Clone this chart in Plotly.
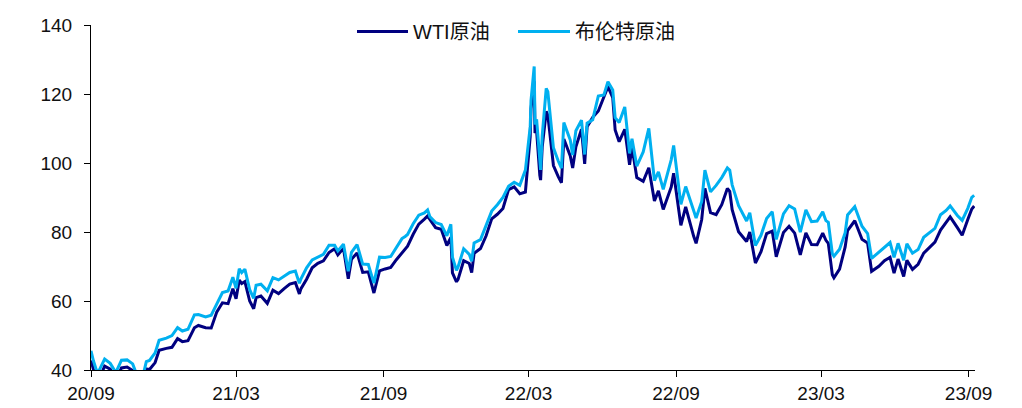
import plotly.graph_objects as go

# Daily settlement samples (USD/bbl)
dates = [
    "2020-09-01", "2020-09-04", "2020-09-08", "2020-09-11", "2020-09-16", "2020-09-18", "2020-09-25",
    "2020-10-02", "2020-10-09", "2020-10-16", "2020-10-23", "2020-10-30", "2020-11-02", "2020-11-06",
    "2020-11-09", "2020-11-13", "2020-11-20", "2020-11-25", "2020-12-04", "2020-12-11", "2020-12-18",
    "2020-12-24", "2020-12-31",
    "2021-01-08", "2021-01-13", "2021-01-22", "2021-01-29", "2021-02-05", "2021-02-12", "2021-02-19",
    "2021-02-25", "2021-03-01", "2021-03-05", "2021-03-08", "2021-03-12", "2021-03-18", "2021-03-23",
    "2021-03-26", "2021-04-01", "2021-04-09", "2021-04-16", "2021-04-23", "2021-04-30", "2021-05-07",
    "2021-05-14", "2021-05-19", "2021-05-21", "2021-05-28", "2021-06-04", "2021-06-11", "2021-06-18",
    "2021-06-25", "2021-07-02", "2021-07-06", "2021-07-13", "2021-07-19", "2021-07-23", "2021-07-30",
    "2021-08-06", "2021-08-13", "2021-08-20", "2021-08-27", "2021-09-03", "2021-09-10", "2021-09-17",
    "2021-09-24", "2021-09-28", "2021-10-01", "2021-10-08", "2021-10-15", "2021-10-22", "2021-10-26",
    "2021-10-29", "2021-11-05", "2021-11-12", "2021-11-19", "2021-11-24", "2021-11-26", "2021-12-01",
    "2021-12-03", "2021-12-10", "2021-12-17", "2021-12-20", "2021-12-23", "2021-12-31",
    "2022-01-07", "2022-01-14", "2022-01-21", "2022-01-28", "2022-02-04", "2022-02-11", "2022-02-18",
    "2022-02-25", "2022-03-03", "2022-03-04", "2022-03-08", "2022-03-09", "2022-03-11", "2022-03-15",
    "2022-03-16", "2022-03-18", "2022-03-23", "2022-03-25", "2022-04-01", "2022-04-07", "2022-04-11",
    "2022-04-14", "2022-04-22", "2022-04-25", "2022-04-29", "2022-05-06", "2022-05-10", "2022-05-13",
    "2022-05-20", "2022-05-27", "2022-06-03", "2022-06-08", "2022-06-14", "2022-06-17", "2022-06-22",
    "2022-06-29", "2022-07-05", "2022-07-08", "2022-07-14", "2022-07-22", "2022-07-29", "2022-08-05",
    "2022-08-10", "2022-08-16", "2022-08-26", "2022-08-29", "2022-09-07", "2022-09-13", "2022-09-23",
    "2022-09-26", "2022-10-03", "2022-10-07", "2022-10-14", "2022-10-21", "2022-10-28", "2022-11-04",
    "2022-11-07", "2022-11-10", "2022-11-18", "2022-11-28", "2022-12-02", "2022-12-09", "2022-12-16",
    "2022-12-23", "2022-12-30",
    "2023-01-04", "2023-01-13", "2023-01-20", "2023-01-27", "2023-02-03", "2023-02-10", "2023-02-17",
    "2023-02-24", "2023-03-03", "2023-03-07", "2023-03-10", "2023-03-15", "2023-03-17", "2023-03-24",
    "2023-03-31", "2023-04-03", "2023-04-12", "2023-04-21", "2023-04-28", "2023-05-03", "2023-05-12",
    "2023-05-19", "2023-05-26", "2023-05-31", "2023-06-05", "2023-06-12", "2023-06-16", "2023-06-23",
    "2023-06-30", "2023-07-07", "2023-07-14", "2023-07-21", "2023-07-28", "2023-08-04", "2023-08-09",
    "2023-08-18", "2023-08-24", "2023-08-31", "2023-09-05", "2023-09-08",
]

wti = [
    42.76, 39.77, 36.76, 37.33, 40.16, 41.11, 40.25,
    37.05, 40.60, 40.88, 39.85, 35.79, 36.81, 37.14,
    40.29, 40.13, 42.15, 45.71, 46.26, 46.57, 49.10,
    48.23, 48.52,
    52.24, 52.91, 52.27, 52.20, 56.85, 59.47, 59.24,
    63.53, 60.64, 66.09, 65.05, 65.61, 60.00, 57.76,
    60.97, 61.45, 59.32, 63.13, 62.14, 63.58, 64.90,
    65.37, 62.05, 63.58, 66.32, 69.62, 70.91, 71.64,
    74.05, 75.16, 73.37, 75.25, 66.42, 72.07, 73.95,
    68.28, 68.44, 62.32, 68.74, 69.29, 69.72, 71.97,
    73.98, 75.29, 75.88, 79.35, 82.28, 83.76, 84.65,
    83.57, 81.27, 80.79, 76.10, 78.39, 68.15, 65.57,
    66.26, 71.67, 70.86, 68.23, 73.79, 75.21,
    78.90, 83.82, 85.14, 86.82, 92.31, 93.10, 91.07,
    91.59, 107.67, 115.68, 123.70, 108.70, 109.33, 96.44,
    95.04, 104.70, 114.93, 113.90, 99.27, 96.03, 94.29,
    106.95, 102.07, 98.54, 104.69, 109.77, 99.76, 110.49,
    113.23, 115.07, 118.87, 122.11, 118.93, 109.56, 106.19,
    109.78, 99.50, 104.79, 95.78, 94.70, 98.62, 89.01,
    91.93, 86.53, 93.06, 97.01, 81.94, 87.31, 78.74,
    76.71, 83.63, 92.64, 85.61, 85.05, 87.90, 92.61,
    91.79, 86.47, 80.08, 77.24, 79.98, 71.02, 74.29,
    79.56, 80.26,
    72.84, 79.86, 81.64, 79.68, 73.39, 79.72, 76.34,
    76.32, 79.68, 77.58, 76.68, 67.61, 66.74, 69.26,
    75.67, 80.42, 83.26, 77.87, 76.78, 68.60, 70.04,
    71.69, 72.67, 68.09, 72.15, 67.12, 71.78, 69.16,
    70.64, 73.86, 75.42, 77.07, 80.58, 82.82, 84.40,
    81.25, 79.05, 83.63, 86.69, 87.51,
]

brent = [
    45.58, 42.66, 39.78, 39.83, 42.22, 43.15, 41.92,
    39.27, 42.85, 42.93, 41.77, 37.46, 39.00, 39.45,
    42.40, 42.78, 44.96, 48.61, 49.25, 49.97, 52.26,
    51.29, 51.80,
    55.99, 56.06, 55.41, 55.88, 59.34, 62.43, 62.91,
    66.88, 63.69, 69.36, 68.24, 69.22, 63.28, 60.79,
    64.57, 64.86, 62.95, 66.77, 66.11, 67.25, 68.28,
    68.71, 65.11, 66.44, 69.63, 71.89, 72.69, 73.51,
    76.18, 76.17, 74.53, 76.49, 68.62, 74.10, 76.33,
    70.70, 70.59, 65.18, 72.70, 72.61, 72.92, 75.34,
    78.09, 78.72, 79.28, 82.39, 84.86, 85.53, 86.40,
    84.38, 82.74, 82.17, 78.89, 82.25, 72.72, 68.87,
    69.88, 75.15, 73.52, 71.52, 76.85, 77.78,
    81.75, 86.06, 87.89, 90.03, 93.27, 94.44, 93.54,
    97.93, 110.46, 118.11, 127.98, 111.14, 112.67, 99.91,
    98.02, 107.93, 121.60, 120.65, 104.39, 100.58, 98.48,
    111.70, 106.65, 102.32, 109.34, 112.39, 102.46, 111.55,
    112.55, 119.43, 119.72, 123.58, 121.17, 113.12, 111.74,
    116.26, 102.77, 107.02, 99.10, 103.20, 110.01, 94.92,
    97.40, 92.34, 100.99, 105.09, 88.00, 93.17, 86.15,
    84.06, 88.86, 97.92, 91.63, 93.50, 95.77, 98.57,
    97.92, 93.67, 87.62, 83.19, 85.57, 76.10, 79.04,
    83.92, 85.91,
    77.84, 85.28, 87.63, 86.66, 79.94, 86.39, 83.00,
    83.16, 85.83, 83.29, 82.78, 73.69, 72.97, 74.99,
    79.77, 84.93, 87.33, 81.66, 79.54, 72.33, 74.17,
    75.58, 76.95, 72.66, 76.71, 71.84, 76.61, 73.85,
    74.90, 78.47, 79.87, 81.07, 84.99, 86.24, 87.55,
    84.80, 83.36, 86.86, 90.04, 90.65,
]

series_names = ["WTI原油", "布伦特原油"]
series_colors = ["#000080", "#00B0F0"]

tick_dates = ["2020-09-01", "2021-03-01", "2021-09-01", "2022-03-01",
              "2022-09-01", "2023-03-01", "2023-09-01"]
tick_labels = ["20/09", "21/03", "21/09", "22/03", "22/09", "23/03", "23/09"]
y_ticks = [40, 60, 80, 100, 120, 140]

FONT = "Arial, 'Liberation Sans', 'Noto Sans CJK SC', sans-serif"

fig = go.Figure()
for name, values, color in zip(series_names, [wti, brent], series_colors):
    fig.add_trace(go.Scatter(
        x=dates, y=values, name=name, mode="lines",
        line=dict(color=color, width=3),
        showlegend=False,
    ))

# Legend drawn as line samples plus labels across the top of the plot
W, H = 1022, 408
L, R, T, B = 91, 47, 25, 38
pw, ph = W - L - R, H - T - B


def px_x(p):
    return (p - L) / pw


def px_y(p):
    return (H - B - p) / ph


legend_items = [(357, 408, 413), (518, 570, 575)]
for (x0, x1, tx), name, color in zip(legend_items, series_names, series_colors):
    fig.add_shape(type="line", xref="paper", yref="paper",
                  x0=px_x(x0), x1=px_x(x1), y0=px_y(31.5), y1=px_y(31.5),
                  line=dict(color=color, width=3))
    fig.add_annotation(xref="paper", yref="paper", x=px_x(tx), y=px_y(31.5),
                       text=name, showarrow=False, xanchor="left", yanchor="middle",
                       xshift=-2,
                       font=dict(family=FONT, size=20, color="#111111"))

fig.update_layout(
    width=W, height=H,
    margin=dict(l=L, r=R, t=T, b=B, autoexpand=False),
    paper_bgcolor="white", plot_bgcolor="white",
    font=dict(family=FONT, size=19, color="#111111"),
)
fig.update_xaxes(
    type="date", range=["2020-09-01", "2023-09-09"],
    tickvals=tick_dates, ticktext=tick_labels,
    automargin=False,
    showgrid=False, zeroline=False,
    showline=True, linecolor="#000000", linewidth=1.2,
    ticks="outside", ticklen=6, tickcolor="#000000",
    tickfont=dict(family=FONT, size=19, color="#111111"),
)
fig.update_yaxes(
    range=[40, 140], tickvals=y_ticks,
    automargin=False,
    showgrid=False, zeroline=False,
    showline=True, linecolor="#000000", linewidth=1.2,
    ticks="outside", ticklen=6, tickcolor="#000000",
    ticklabelstandoff=8,
    tickfont=dict(family=FONT, size=19, color="#111111"),
)

fig.write_html("out.html")
